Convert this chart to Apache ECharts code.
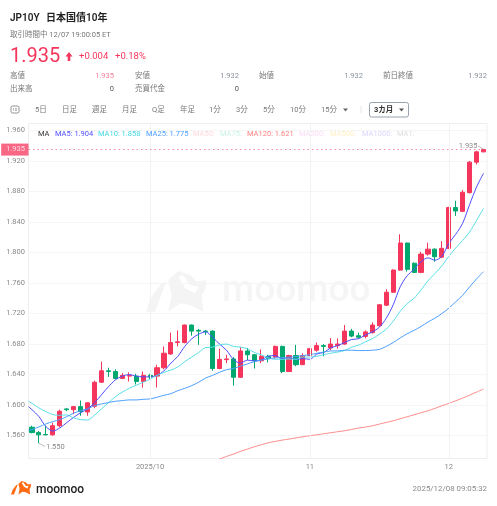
<!DOCTYPE html>
<html><head><meta charset="utf-8">
<style>html,body{margin:0;padding:0;background:#fff}#c{width:497px;height:506px}</style>
<script src="https://cdn.jsdelivr.net/npm/echarts@6/dist/echarts.min.js"></script>
</head><body><div id="c"></div>
<script>
const categories=['2025-09-08','2025-09-09','2025-09-10','2025-09-11','2025-09-12','2025-09-15','2025-09-16','2025-09-17','2025-09-18','2025-09-19','2025-09-22','2025-09-23','2025-09-24','2025-09-25','2025-09-26','2025-09-29','2025-09-30','2025-10-01','2025-10-02','2025-10-03','2025-10-06','2025-10-07','2025-10-08','2025-10-09','2025-10-10','2025-10-13','2025-10-14','2025-10-15','2025-10-16','2025-10-17','2025-10-20','2025-10-21','2025-10-22','2025-10-23','2025-10-24','2025-10-27','2025-10-28','2025-10-29','2025-10-30','2025-10-31','2025-11-03','2025-11-04','2025-11-05','2025-11-06','2025-11-07','2025-11-10','2025-11-11','2025-11-12','2025-11-13','2025-11-14','2025-11-17','2025-11-18','2025-11-19','2025-11-20','2025-11-21','2025-11-24','2025-11-25','2025-11-26','2025-11-27','2025-11-28','2025-12-01','2025-12-02','2025-12-03','2025-12-04','2025-12-05','2025-12-08'];
const xTickLabels={'2025-10-01':'2025/10','2025-11-03':'11','2025-12-01':'12'};
const yTicks=[1.56,1.6,1.64,1.68,1.72,1.76,1.8,1.84,1.88,1.92,1.96];
// [open, close, low, high]
const candles=[[1.571,1.564,1.563,1.573],[1.564,1.561,1.55,1.566],[1.5615,1.561,1.5605,1.573],[1.561,1.573,1.56,1.577],[1.573,1.592,1.571,1.594],[1.595,1.594,1.592,1.596],[1.594,1.598,1.588,1.599],[1.598,1.5915,1.586,1.606],[1.591,1.603,1.586,1.604],[1.5985,1.63,1.596,1.632],[1.63,1.645,1.629,1.657],[1.645,1.644,1.637,1.649],[1.644,1.635,1.634,1.647],[1.635,1.639,1.634,1.642],[1.638,1.639,1.631,1.643],[1.638,1.631,1.627,1.641],[1.631,1.639,1.623,1.644],[1.639,1.637,1.634,1.641],[1.638,1.649,1.623,1.653],[1.649,1.668,1.647,1.677],[1.667,1.682,1.666,1.695],[1.682,1.683,1.677,1.698],[1.682,1.705,1.681,1.7055],[1.705,1.697,1.691,1.7055],[1.698,1.697,1.679,1.7],[1.697,1.6965,1.692,1.6985],[1.697,1.648,1.645,1.698],[1.648,1.66,1.647,1.674],[1.6596,1.6605,1.655,1.666],[1.6605,1.6365,1.6255,1.663],[1.6365,1.671,1.6355,1.676],[1.671,1.666,1.659,1.675],[1.666,1.658,1.648,1.667],[1.658,1.664,1.655,1.673],[1.664,1.661,1.656,1.666],[1.663,1.677,1.661,1.678],[1.677,1.644,1.642,1.678],[1.644,1.665,1.6435,1.666],[1.665,1.653,1.651,1.679],[1.653,1.665,1.6525,1.668],[1.665,1.674,1.664,1.675],[1.672,1.678,1.67,1.682],[1.678,1.677,1.664,1.68],[1.675,1.68,1.672,1.688],[1.678,1.68,1.674,1.6875],[1.68,1.697,1.679,1.705],[1.697,1.6905,1.689,1.7],[1.691,1.689,1.687,1.695],[1.69,1.696,1.6875,1.698],[1.695,1.705,1.694,1.7085],[1.704,1.7315,1.703,1.7325],[1.731,1.748,1.73,1.752],[1.748,1.777,1.747,1.778],[1.777,1.8125,1.776,1.824],[1.8125,1.778,1.775,1.813],[1.786,1.774,1.773,1.787],[1.774,1.798,1.773,1.801],[1.798,1.8045,1.796,1.813],[1.8045,1.7945,1.788,1.8055],[1.794,1.8055,1.793,1.815],[1.8055,1.859,1.8045,1.86],[1.859,1.8545,1.848,1.868],[1.854,1.879,1.853,1.882],[1.8785,1.9185,1.8775,1.92],[1.9185,1.932,1.9155,1.9335],[1.932,1.935,1.9315,1.9355]];
const ma5=[1.594,1.585,1.572,1.566,1.57,1.577,1.584,1.59,1.595,1.603,1.6135,1.624,1.633,1.638,1.64,1.638,1.637,1.637,1.639,1.645,1.655,1.664,1.677,1.687,1.693,1.696,1.689,1.68,1.672,1.66,1.655,1.659,1.658,1.659,1.664,1.665,1.661,1.662,1.66,1.661,1.66,1.667,1.669,1.675,1.678,1.682,1.686,1.687,1.692,1.696,1.702,1.714,1.7315,1.755,1.7695,1.778,1.788,1.793,1.79,1.795,1.812,1.824,1.8385,1.863,1.886,1.904];
const ma10=[1.6024,1.5963,1.5915,1.5875,1.5867,1.5871,1.5832,1.581,1.5805,1.5868,1.595,1.603,1.611,1.617,1.622,1.626,1.63,1.634,1.639,1.643,1.646,1.65,1.657,1.663,1.669,1.6755,1.676,1.679,1.68,1.677,1.676,1.674,1.669,1.666,1.662,1.66,1.66,1.6605,1.66,1.663,1.663,1.664,1.666,1.668,1.6695,1.6715,1.676,1.6785,1.683,1.687,1.693,1.6995,1.71,1.723,1.733,1.74,1.751,1.763,1.7725,1.7825,1.795,1.806,1.816,1.827,1.842,1.858];
const ma25=[1.5679,1.5714,1.5753,1.5784,1.581,1.5849,1.5893,1.5928,1.595,1.5993,1.6015,1.6033,1.605,1.6059,1.6068,1.6068,1.6076,1.6081,1.6103,1.6129,1.615,1.619,1.622,1.6255,1.63,1.6355,1.639,1.643,1.6465,1.648,1.651,1.654,1.657,1.659,1.6605,1.662,1.662,1.663,1.6635,1.665,1.666,1.668,1.6695,1.671,1.671,1.672,1.672,1.6715,1.6715,1.672,1.673,1.677,1.682,1.688,1.6935,1.698,1.703,1.709,1.714,1.72,1.727,1.7355,1.744,1.755,1.7655,1.775];
const ma120=[null,null,null,null,null,null,null,null,null,null,null,null,null,null,null,null,null,null,null,null,null,null,null,null,null,null,1.5255,1.5292,1.5327,1.5358,1.5393,1.5423,1.5454,1.548,1.5506,1.5524,1.5541,1.5555,1.557,1.5585,1.5598,1.5611,1.5624,1.5638,1.5651,1.5664,1.5681,1.5699,1.5712,1.5729,1.5751,1.5773,1.5795,1.5821,1.5847,1.5873,1.59,1.5926,1.5957,1.5992,1.6022,1.6057,1.6092,1.6131,1.6171,1.621];
// averages where they enter the plot at its left edge, half a candle before the first one
const edgeMa5=1.598, edgeMa10=1.605, edgeMa25=1.5665;
const lastPrice=1.935, highPrice=1.9355, lowPrice=1.55;

const FONT="Roboto,'Noto Sans CJK JP',sans-serif", RED='#f5365c', GREEN='#00a870', GRAY='#8a8a8a';
const chart=echarts.init(document.getElementById('c'),null,{renderer:'canvas'});
const T=(text,x,y,size,fill,extra={})=>({type:'text',x,y,silent:true,z:extra.z??10,style:{text,fontFamily:FONT,fontSize:size,fill,fontWeight:extra.w||400,align:extra.a||'left',verticalAlign:'middle'}});
const stripe=[[18,140],[32,100],[62,58],[80,48],[60,100],[45,140]];
const bull=[[85,140],[95,90],[85,45],[115,18],[150,30],[170,50],[200,45],[195,75],[185,90],[190,140],[150,120],[120,115]];
const horn=[[115,35],[130,30],[150,60],[175,65],[165,85],[135,70]];
const logo=(ox,oy,s,fill,cut,z)=>[stripe,bull,horn].map((p,k)=>({type:'polygon',silent:true,z,shape:{points:p.map(q=>[ox+q[0]*s,oy+q[1]*s])},style:{fill:k==2?cut:fill}}));
const tabs=[['5日',35],['日足',62],['週足',92],['月足',122],['Q足',152],['年足',180],['1分',209],['3分',236],['5分',263],['10分',290],['15分',321]];
const legend=[['MA',38,'#333'],['MA5: 1.904',55,'#4f4dff'],['MA10: 1.858',98,'#45d6e4'],['MA25: 1.775',146,'#4d9fff'],['MA50:',193,'#ffd9de'],['MA75:',220,'#c9f3e6'],['MA120: 1.621',247,'#ff8080'],['MA200:',299,'#fbdcf7'],['MA500:',330,'#fff0c4'],['MA1000:',362,'#dcd6fb'],['MA1:',397,'#dddddd']];
const stats=[['高値',10,'1.935',114,76,'#f7809a'],['安値',135,'1.932',239,76,'#8a93a0'],['始値',259,'1.932',363,76,'#8a93a0'],['前日終値',383,'1.932',487,76,'#8a93a0'],['出来高',10,'0',114,89,'#555'],['売買代金',135,'0',239,89,'#555']];
const graphic=[
 T('JP10Y',10,18,10,'#222',{w:600}),T('日本国債10年',46,18,10,'#222',{w:600}),
 T('取引時間中 12/07 19:00:05 ET',10,35,7.5,'#777'),
 T('1.935',10,57,20,RED),
 {type:'polygon',silent:true,z:10,shape:{points:[[69,52],[72.5,56.5],[70.3,56.5],[70.3,61],[67.7,61],[67.7,56.5],[65.5,56.5]]},style:{fill:RED}},
 T('+0.004',79,57,9.5,RED),T('+0.18%',115,57,9.5,RED),
 ...stats.flatMap(s=>[T(s[0],s[1],s[4],7.5,'#777'),T(s[2],s[3],s[4],7.5,s[5],{a:'right'})]),
 {type:'rect',silent:true,z:10,shape:{x:11,y:106,width:8,height:7,r:1.5},style:{fill:'none',stroke:'#777',lineWidth:0.8}},
 T('1D',15,109.6,4,'#777',{a:'center'}),
 ...tabs.map(t=>T(t[0],t[1],110,7.5,'#777')),
 {type:'polygon',silent:true,z:10,shape:{points:[[343,108.5],[348,108.5],[345.5,111.5]]},style:{fill:'#666'}},
 {type:'line',silent:true,z:10,shape:{x1:361,y1:106,x2:361,y2:113},style:{stroke:'#e6e6e6',lineWidth:1}},
 {type:'rect',silent:true,z:10,shape:{x:369.5,y:102.5,width:39,height:14.5,r:2},style:{fill:'#fff',stroke:'#7f8a99',lineWidth:0.8}},
 T('3カ月',374,110,7.5,'#333',{w:700,z:11}),
 {type:'polygon',silent:true,z:11,shape:{points:[[399,108.5],[404,108.5],[401.5,111.5]]},style:{fill:'#555'}},
 ...legend.map(l=>T(l[0],l[1],134.5,7.5,l[2])),
 T('moomoo',222,292,37,'#f5f5f5',{w:500,z:0}),
 ...logo(140,265,1/3,'#f4f4f4','#ffffff',0),
 ...logo(9,479,1/9,'#ff6a13','#ffffff',10),
 T('moomoo',36,490,12,'#222',{w:500}),
 T('2025/12/08 09:05:32',487,489,7.9,GRAY,{a:'right'})
];
const pairs=(arr,edge)=>{const d=arr.map((v,i)=>[i,v]);if(edge!=null)d.unshift([-0.5,edge]);return d;};
const line=(name,arr,edge,color)=>({name,type:'line',xAxisIndex:1,data:pairs(arr,edge),symbol:'none',smooth:0.3,z:4,lineStyle:{color,width:1},itemStyle:{color},silent:true,connectNulls:false});
const last=categories[categories.length-1];
chart.setOption({
 animation:false,backgroundColor:'#fff',
 graphic,
 grid:{left:28.5,right:10,top:123.5,height:335,show:true,borderColor:'#eeeeee',borderWidth:1,backgroundColor:'transparent'},
 xAxis:[{type:'category',data:categories,boundaryGap:true,
  axisLine:{show:false},axisTick:{show:false},splitLine:{show:false},
  axisLabel:{color:GRAY,fontSize:7.5,fontFamily:FONT,margin:5,interval:(i,v)=>v in xTickLabels,formatter:v=>xTickLabels[v]||'',hideOverlap:false}},
  {type:'value',min:-0.5,max:categories.length-0.5,show:false,splitLine:{show:false}}],
 yAxis:{type:'value',min:1.53,max:1.9692,scale:true,position:'left',
  axisLine:{show:false},axisTick:{show:false,customValues:yTicks},
  axisLabel:{color:GRAY,fontSize:7.5,fontFamily:FONT,margin:3.5,customValues:yTicks,formatter:v=>v.toFixed(3)},
  splitLine:{show:true,lineStyle:{color:'#f5f5f5',width:1}}},
 series:[
  {type:'line',data:[],z:1,silent:true,symbol:'none',
   markLine:{silent:true,symbol:'none',animation:false,lineStyle:{color:'#f2f2f2',width:1,type:'solid'},label:{show:false},
    data:Object.keys(xTickLabels).map(d=>({xAxis:d}))}},
  {name:'K',type:'candlestick',data:candles,barWidth:4.6,z:3,silent:true,
   itemStyle:{color:RED,color0:GREEN,borderColor:RED,borderColor0:GREEN,borderWidth:1},
   markPoint:{silent:true,symbol:'circle',symbolSize:0,animation:false,
    data:[
     {coord:[last,highPrice],label:{show:true,formatter:'1.935',color:GRAY,fontSize:7.5,fontFamily:FONT,position:'left',offset:[-6,-3],distance:0}},
     {coord:[categories[1],lowPrice],label:{show:true,formatter:'1.550',color:GRAY,fontSize:7.5,fontFamily:FONT,position:'right',offset:[7,3.5],distance:0}}
    ]},
   markLine:{silent:true,symbol:'none',animation:false,precision:4,label:{show:false},lineStyle:{color:'#aaa',width:0.8,type:'solid'},
    data:[[{coord:[last,highPrice]},{x:478,y:146}],[{coord:[categories[1],lowPrice]},{x:45,y:446.5}]]}},
  line('MA5',ma5,edgeMa5,'#4f4dff'),line('MA10',ma10,edgeMa10,'#5adfe8'),line('MA25',ma25,edgeMa25,'#4d9fff'),line('MA120',ma120,null,'#ff8c8c'),
  {type:'line',data:[],z:5,silent:true,symbol:'none',
   markLine:{silent:true,symbol:'none',animation:false,precision:4,lineStyle:{color:RED,width:0.8,type:[1.5,3],opacity:0.75},
    label:{show:true,position:'start',distance:0,formatter:lastPrice.toFixed(3),color:'#fff',backgroundColor:RED,fontSize:7.5,fontFamily:FONT,padding:[2.5,3.5,2,5],borderRadius:0},
    data:[{yAxis:lastPrice}]}}
 ]
});
</script></body></html>
